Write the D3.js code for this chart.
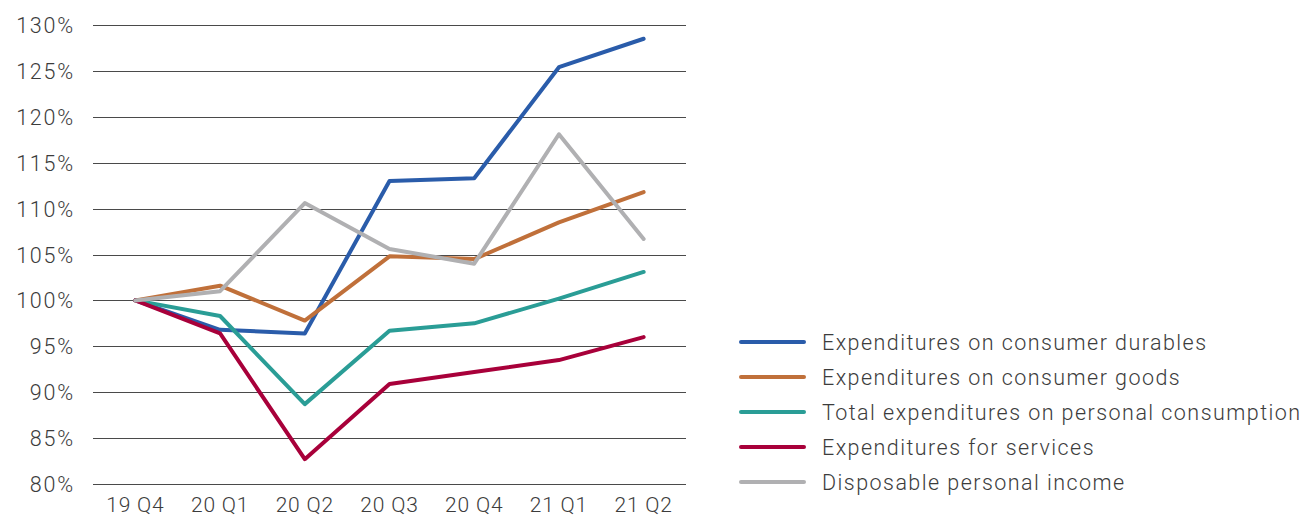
<!DOCTYPE html>
<html><head><meta charset="utf-8">
<script src="https://cdn.jsdelivr.net/npm/d3@7"></script>
<style>body{margin:0;background:#fff}svg{display:block}text{font-family:Roboto,"Noto Sans",sans-serif;font-weight:300;fill:#3c3c3c}</style>
</head><body><svg id="c" width="1303" height="521"></svg>
<script>
const categories = ["19 Q4","20 Q1","20 Q2","20 Q3","20 Q4","21 Q1","21 Q2"];
const durables = [100, 96.8, 96.4, 113.0, 113.3, 125.4, 128.5];
const goods    = [100, 101.6, 97.8, 104.8, 104.5, 108.5, 111.8];
const total    = [100, 98.3, 88.7, 96.7, 97.5, 100.2, 103.1];
const services = [100, 96.4, 82.7, 90.9, 92.2, 93.5, 96.0];
const income   = [100, 101.0, 110.6, 105.6, 104.0, 118.1, 106.7];
const yTicks = [80,85,90,95,100,105,110,115,120,125,130];
const seriesNames = ["Expenditures on consumer durables","Expenditures on consumer goods","Total expenditures on personal consumption","Expenditures for services","Disposable personal income"];
const seriesColors = ["#2a5caa","#c0703a","#2a9d96","#a8003a","#b0b0b2"];
const seriesData = [durables, goods, total, services, income];

const svg = d3.select("#c");
const x = d3.scaleBand().domain(categories).range([93, 686]);
const y = d3.scaleLinear().domain([80,130]).range([484, 25]);

const grid = svg.append("g");
grid.selectAll("line").data(yTicks).join("line")
  .attr("x1", 93).attr("x2", 686)
  .attr("y1", d => Math.round(y(d))+0.5).attr("y2", d => Math.round(y(d))+0.5)
  .attr("stroke", "#4a4a4a").attr("stroke-width", 1.2);

const yAxis = svg.append("g").attr("transform","translate(75,0)")
  .call(d3.axisLeft(y).tickValues(yTicks).tickSize(0).tickPadding(0).tickFormat(d => d + "%"));
yAxis.select(".domain").remove();
yAxis.selectAll("text").style("font-size","21.5px").style("letter-spacing","1.8px").attr("dy","0.35em").style("font-family","Roboto").style("fill","#3c3c3c");

const xAxis = svg.append("g").attr("transform","translate(0,497)")
  .call(d3.axisBottom(x).tickSize(0).tickPadding(0));
xAxis.select(".domain").remove();
xAxis.selectAll("text").style("font-size","21px").style("letter-spacing","0.8px").attr("dy","0.71em").style("font-family","Roboto").style("fill","#3c3c3c");

const line = d3.line().x((d,i) => x(categories[i]) + x.bandwidth()/2).y(d => y(d));
svg.append("g").selectAll("path").data(seriesData).join("path")
  .attr("d", d => line(d)).attr("fill","none")
  .attr("stroke", (d,i) => seriesColors[i]).attr("stroke-width", 4)
  .attr("stroke-linejoin","round").attr("stroke-linecap","round");

const leg = svg.append("g");
const rows = leg.selectAll("g").data(seriesNames).join("g")
  .attr("transform", (d,i) => `translate(0,${342 + i*35})`);
rows.append("line").attr("x1",741).attr("x2",804).attr("y1",0).attr("y2",0)
  .attr("stroke",(d,i)=>seriesColors[i]).attr("stroke-width",4).attr("stroke-linecap","round");
rows.append("text").attr("x",822).attr("y",0).attr("dy","0.35em").style("font-size","21.5px").style("letter-spacing","1.45px").text(d=>d);
</script></body></html>
